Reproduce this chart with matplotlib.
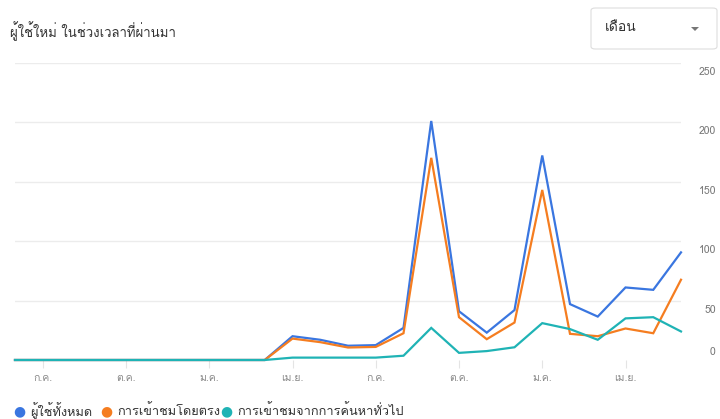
import matplotlib
matplotlib.use("Agg")
import matplotlib.pyplot as plt
from matplotlib import font_manager
from matplotlib.patches import FancyBboxPatch, Polygon
from fontTools.ttLib import TTFont

# find installed families that have Thai glyphs, prefer Loma (Tahoma-like)
thai_fams = []
for f in font_manager.fontManager.ttflist:
    try:
        tt = TTFont(f.fname, fontNumber=0, lazy=True)
        if 0x0E01 in tt.getBestCmap() and f.name not in thai_fams:
            thai_fams.append(f.name)
    except Exception:
        pass
if 'Loma' in thai_fams:
    thai_fams.remove('Loma')
    thai_fams.insert(0, 'Loma')
plt.rcParams['font.family'] = thai_fams[:1] + ['DejaVu Sans']

# monthly data, June .. June (25 months)
months = ['มิ.ย.', 'ก.ค.', 'ส.ค.', 'ก.ย.', 'ต.ค.', 'พ.ย.', 'ธ.ค.', 'ม.ค.', 'ก.พ.', 'มี.ค.', 'เม.ย.', 'พ.ค.',
          'มิ.ย.', 'ก.ค.', 'ส.ค.', 'ก.ย.', 'ต.ค.', 'พ.ย.', 'ธ.ค.', 'ม.ค.', 'ก.พ.', 'มี.ค.', 'เม.ย.', 'พ.ค.', 'มิ.ย.']
total_users = [0, 0, 0, 0, 0, 0, 0, 0, 0, 0, 20, 17, 12, 12.5, 27, 201, 41, 23, 42, 172, 47, 36.5, 61, 59, 90.5]
direct = [0, 0, 0, 0, 0, 0, 0, 0, 0, 0, 18, 15, 10.5, 11, 22.5, 170, 36, 17.5, 31.5, 143, 22, 20, 26.5, 22.5, 67.5]
organic = [0, 0, 0, 0, 0, 0, 0, 0, 0, 0, 2, 2, 2, 2, 3.6, 27, 6, 7.5, 10.7, 31, 26, 17, 35, 36, 24]
y_ticks = [0, 50, 100, 150, 200, 250]

title = 'ผู้ใช้ใหม่ ในช่วงเวลาที่ผ่านมา'
dropdown = 'เดือน'
series_names = ['ผู้ใช้ทั้งหมด', 'การเข้าชมโดยตรง', 'การเข้าชมจากการค้นหาทั่วไป']
colors = ['#3a76e0', '#f57d20', '#1fb3b5']

fig = plt.figure(figsize=(7.2, 4.19), dpi=100)
ax = fig.add_axes([15/720, 59/419, 666/720, 297.3/419])
x = list(range(len(months)))
for vals, c in zip([total_users, direct, organic], colors):
    ax.plot(x, vals, color=c, lw=1.6, clip_on=False, solid_joinstyle='miter')

ax.set_xlim(0, len(months) - 1)
ax.set_ylim(0, 250)
for s in ax.spines.values():
    s.set_visible(False)
for t in y_ticks[1:]:
    ax.axhline(t, color='#ececec', lw=1, zorder=0)
ax.set_yticks([])
ax.set_xticks(x[1::3])
ax.set_xticklabels(months[1::3], fontsize=7.5, color='#888888')
ax.tick_params(axis='x', length=6, width=0.8, color='#e4e4e4', pad=3)

# y labels sit just below each gridline, on the right
for t in y_ticks:
    off = 2 if t == 0 else -3
    ax.annotate(str(t), (1, t), xycoords=('figure fraction', 'data'), xytext=(-3, off),
                textcoords='offset points', ha='right', va='top' if t else 'bottom',
                fontsize=7.5, color='#777777')

fig.text(10/720, 1 - 31/419, title, fontsize=9.5, color='#333333', va='center')

# dropdown box
box = FancyBboxPatch((591/720, 1 - 49/419), 126/720, 41/419, boxstyle='round,pad=0,rounding_size=0.006',
                     transform=fig.transFigure, fc='white', ec='#dddddd', lw=0.8)
fig.patches.append(box)
fig.text(605/720, 1 - 28/419, dropdown, fontsize=10, color='#333333', va='center')
tri = Polygon([(691/720, 1 - 27/419), (699/720, 1 - 27/419), (695/720, 1 - 31/419)],
              closed=True, transform=fig.transFigure, fc='#777777', ec='none')
fig.patches.append(tri)

# legend
dot_x = [19, 106, 226]
for px, name, c in zip(dot_x, series_names, colors):
    fig.text(px/720, 1 - 411/419, '\u25cf', color=c, fontsize=10, ha='center', va='center',
             family='DejaVu Sans')
    fig.text((px + 11)/720, 1 - 411/419, name, color='#333333', fontsize=9.2, va='center')

fig.savefig('out.png', dpi=100)
